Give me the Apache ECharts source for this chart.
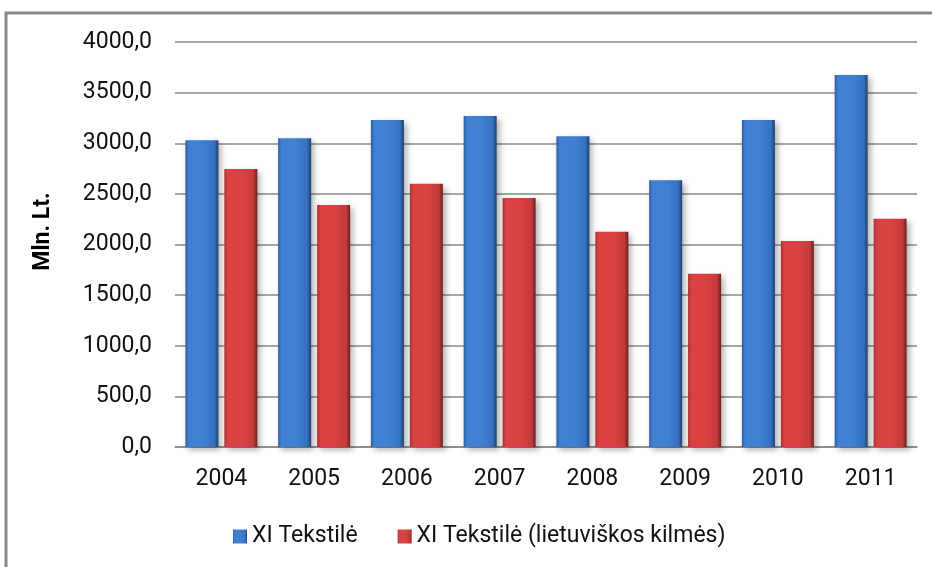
<!DOCTYPE html>
<html>
<head>
<meta charset="utf-8">
<script src="https://cdn.jsdelivr.net/npm/echarts@6/dist/echarts.min.js"></script>
<style>
  html, body { margin: 0; padding: 0; background: #fff; }
  #chart { width: 932px; height: 567px; }
</style>
</head>
<body>
<div id="chart"></div>
<script>
// years on the x axis
const years = ['2004', '2005', '2006', '2007', '2008', '2009', '2010', '2011'];
// Mln. Lt.
const tekstile = [3030, 3050, 3230, 3270, 3070, 2635, 3230, 3675];
const tekstileLt = [2745, 2390, 2600, 2460, 2125, 1710, 2035, 2255];
const seriesNames = ['XI Tekstilė', 'XI Tekstilė (lietuviškos kilmės)'];

const font = 'Roboto';

function barFill(c0, c1, c2, c3) {
  return new echarts.graphic.LinearGradient(0, 0, 1, 0, [
    { offset: 0, color: c0 },
    { offset: 0.1, color: c1 },
    { offset: 0.55, color: c1 },
    { offset: 0.88, color: c2 },
    { offset: 1, color: c3 }
  ]);
}

const chart = echarts.init(document.getElementById('chart'));

const option = {
  animation: false,
  backgroundColor: '#fff',
  graphic: [{
    type: 'rect',
    shape: { x: 6, y: 13, width: 960, height: 620 },
    style: { fill: 'none', stroke: '#878787', lineWidth: 3 },
    silent: true
  }],
  grid: { left: 175, right: 15, top: 42, bottom: 120 },
  legend: {
    data: seriesNames,
    bottom: 14,
    left: 228,
    icon: 'rect',
    itemWidth: 14,
    itemHeight: 14,
    itemGap: 40,
    textStyle: { fontFamily: font, fontSize: 23, color: '#111' }
  },
  xAxis: {
    type: 'category',
    data: years,
    axisLine: { lineStyle: { color: '#888', width: 1.5 } },
    axisTick: { show: false },
    axisLabel: { fontFamily: font, fontSize: 23, color: '#111', margin: 21 }
  },
  yAxis: {
    type: 'value',
    min: 0,
    max: 4000,
    interval: 500,
    name: 'Mln. Lt.',
    nameLocation: 'middle',
    nameGap: 120,
    nameTextStyle: { fontFamily: font, fontSize: 23, fontWeight: 'bold', color: '#000', padding: [0, 0, 0, 26] },
    axisLine: { show: false },
    axisTick: { show: false },
    splitLine: { lineStyle: { color: '#888', width: 1.5 } },
    axisLabel: {
      fontFamily: font, fontSize: 23, color: '#111', margin: 23,
      formatter: v => v.toFixed(1).replace('.', ',')
    }
  },
  series: [
    {
      name: seriesNames[0],
      type: 'bar',
      data: tekstile,
      barWidth: 33,
      barGap: '18%',
      itemStyle: {
        color: barFill('#2c5c9c', '#3f80d2', '#3671bf', '#1d3f6e'),
        shadowBlur: 6,
        shadowColor: 'rgba(0,0,0,0.3)',
        shadowOffsetX: 3,
        shadowOffsetY: 3
      }
    },
    {
      name: seriesNames[1],
      type: 'bar',
      data: tekstileLt,
      barWidth: 33,
      itemStyle: {
        color: barFill('#a83030', '#d84242', '#c43a3a', '#6e1c1c'),
        shadowBlur: 6,
        shadowColor: 'rgba(0,0,0,0.3)',
        shadowOffsetX: 3,
        shadowOffsetY: 3
      }
    }
  ]
};

chart.setOption(option);
</script>
</body>
</html>
